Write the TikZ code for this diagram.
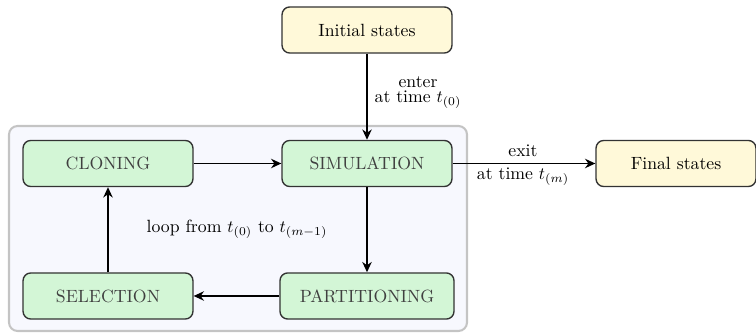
\documentclass[tikz,border=0pt]{standalone}
\usetikzlibrary{arrows.meta}
\definecolor{greenfill}{HTML}{D3F6D6}
\definecolor{yellowfill}{HTML}{FFF9D9}
\definecolor{framegray}{HTML}{C4C4C4}
\definecolor{framefill}{HTML}{F7F8FE}
\definecolor{boxborder}{HTML}{333333}
\definecolor{greentext}{HTML}{404040}
\begin{document}
\begin{tikzpicture}[x=0.5814pt,y=-0.5814pt,
  every node/.style={font=\fontsize{10.3}{12.4}\selectfont},
  stagebox/.style={draw=boxborder,line width=0.8pt,fill=greenfill,rounded corners=4.5pt,
    minimum width=98.8pt,minimum height=26.8pt,text=greentext,inner sep=0pt},
  endbox/.style={draw=boxborder,line width=0.8pt,fill=yellowfill,rounded corners=4.5pt,
    minimum width=98.8pt,minimum height=26.8pt,inner sep=0pt},
  flow/.style={-{Stealth[length=6pt,width=5.5pt]},line width=0.8pt},
  lab/.style={inner sep=1pt}]
\useasboundingbox (0,0) rectangle (756,333);
\node[draw=framegray,line width=1.2pt,fill=framefill,rounded corners=5pt,
  minimum width=266.3pt,minimum height=119.2pt] (frame) at (238,228.5) {};
\node[endbox] (init) at (367,30) {Initial states};
\node[stagebox] (clon) at (108,163.5) {CLONING};
\node[stagebox] (sim) at (367,163.5) {SIMULATION};
\node[stagebox,minimum width=101.2pt] (part) at (367,296) {PARTITIONING};
\node[stagebox] (sel) at (108,296) {SELECTION};
\node[endbox,minimum width=93pt] (final) at (676,163.5) {Final states};
\draw[flow] (init) -- (sim);
\node[lab] (enterlab) at (418,82) {enter};
\node[lab] (timelab) at (418,100) {at time $t_{(0)}$};
\draw[flow] (sim) -- (final);
\node[lab] (exitlab) at (523,151) {exit};
\node[lab] (timeexit) at (523,177) {at time $t_{(m)}$};
\draw[flow] (clon) -- (sim);
\draw[flow] (sim) -- (part);
\draw[flow] (part) -- (sel);
\draw[flow] (sel) -- (clon);
\node[lab] (looplab) at (237,229) {loop from $t_{(0)}$ to $t_{(m-1)}$};
\end{tikzpicture}
\end{document}
